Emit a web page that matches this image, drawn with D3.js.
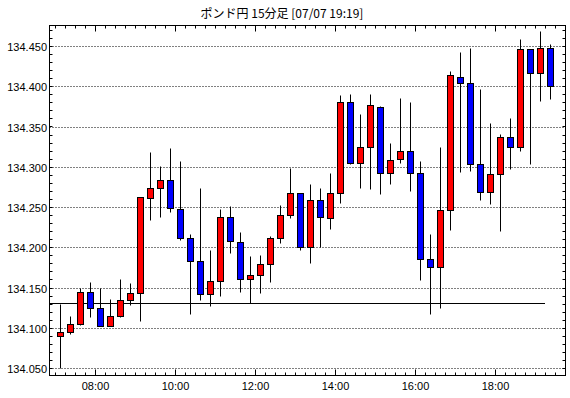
<!DOCTYPE html>
<html><head><meta charset="utf-8">
<script src="https://cdn.jsdelivr.net/npm/d3@7"></script>
<style>body{margin:0;background:#fff}svg{display:block}</style>
</head><body>
<script>
const title = "ポンド円 15分足 [07/07 19:19]";
const times = ["07:00","07:15","07:30","07:45","08:00","08:15","08:30","08:45","09:00","09:15",
"09:30","09:45","10:00","10:15","10:30","10:45","11:00","11:15","11:30","11:45",
"12:00","12:15","12:30","12:45","13:00","13:15","13:30","13:45","14:00","14:15",
"14:30","14:45","15:00","15:15","15:30","15:45","16:00","16:15","16:30","16:45",
"17:00","17:15","17:30","17:45","18:00","18:15","18:30","18:45","19:00","19:15"];
const opens = [134.090,134.095,134.105,134.145,134.125,134.102,134.115,134.135,134.143,134.261,
134.273,134.283,134.248,134.212,134.183,134.142,134.158,134.238,134.207,134.160,
134.165,134.179,134.211,134.240,134.267,134.200,134.259,134.236,134.267,134.380,
134.305,134.324,134.374,134.292,134.310,134.319,134.292,134.186,134.175,134.246,
134.412,134.404,134.303,134.269,134.291,134.337,134.324,134.446,134.417,134.447];
const highs = [134.129,134.114,134.150,134.157,134.150,134.136,134.161,134.156,134.263,134.318,
134.301,134.323,134.307,134.217,134.274,134.196,134.247,134.251,134.219,134.189,
134.190,134.214,134.253,134.298,134.267,134.278,134.273,134.292,134.389,134.390,
134.365,134.390,134.375,134.329,134.386,134.380,134.307,134.217,134.324,134.419,
134.443,134.448,134.397,134.354,134.341,134.360,134.459,134.446,134.469,134.452];
const lows = [134.050,134.092,134.103,134.113,134.102,134.102,134.113,134.128,134.108,134.234,
134.237,134.244,134.209,134.117,134.135,134.127,134.139,134.193,134.144,134.131,
134.143,134.157,134.205,134.236,134.196,134.181,134.200,134.223,134.255,134.303,
134.274,134.272,134.266,134.279,134.305,134.270,134.159,134.117,134.125,134.221,
134.294,134.295,134.259,134.254,134.220,134.297,134.320,134.304,134.382,134.384];
const closes = [134.095,134.105,134.145,134.125,134.102,134.115,134.135,134.143,134.262,134.273,
134.283,134.249,134.212,134.183,134.142,134.158,134.238,134.208,134.160,134.165,
134.179,134.211,134.240,134.267,134.200,134.259,134.237,134.267,134.380,134.305,
134.324,134.377,134.292,134.309,134.319,134.292,134.186,134.175,134.246,134.414,
134.404,134.303,134.269,134.291,134.337,134.324,134.446,134.417,134.447,134.400];
const yTicks = [134.050,134.100,134.150,134.200,134.250,134.300,134.350,134.400,134.450];
const xLabels = ["08:00","10:00","12:00","14:00","16:00","18:00"];
const refLine = 134.131;

const W = 570, H = 398;
const L = 49.5, R = 565.5, T = 25.5, B = 375.5;
const svg = d3.select("body").append("svg").attr("width", W).attr("height", H);
const toMin = s => { const [h,m] = s.split(":").map(Number); return h*60+m; };
const x = d3.scaleLinear().domain([toMin("07:00"), toMin("08:00")]).range([55.5, 95.5]);
const y = d3.scaleLinear().domain([134.05, 134.45]).range([368.5, 46.5]);
const py = v => Math.round(y(v) - 0.5) + 0.5;
const font = "'Liberation Sans', Arial, sans-serif";

// gridlines
svg.append("g").selectAll("line").data(yTicks).join("line")
  .attr("x1", L).attr("x2", R).attr("y1", d => py(d)).attr("y2", d => py(d))
  .attr("stroke", "#000").attr("stroke-dasharray", "1,2");

// y minor ticks
const yMinor = d3.range(134.05, 134.4751, 0.01);
const gy = svg.append("g");
gy.selectAll("line.l").data(yMinor).join("line").attr("class","l")
  .attr("x1", L).attr("x2", L + 3).attr("y1", d => py(d)).attr("y2", d => py(d)).attr("stroke", "#000");
gy.selectAll("line.r").data(yMinor).join("line").attr("class","r")
  .attr("x1", R - 3).attr("x2", R).attr("y1", d => py(d)).attr("y2", d => py(d)).attr("stroke", "#000");

// x ticks
const xMinor = d3.range(toMin("07:00"), toMin("19:30") + 1, 15);
const majorSet = new Set(xLabels.map(toMin));
const gx = svg.append("g");
gx.selectAll("line.b").data(xMinor).join("line").attr("class","b")
  .attr("x1", d => x(d)).attr("x2", d => x(d)).attr("y1", B).attr("y2", d => B - (majorSet.has(d) ? 6 : 3)).attr("stroke", "#000");
gx.selectAll("line.t").data(xMinor).join("line").attr("class","t")
  .attr("x1", d => x(d)).attr("x2", d => x(d)).attr("y1", T).attr("y2", d => T + (majorSet.has(d) ? 6 : 3)).attr("stroke", "#000");

// y labels
svg.append("g").selectAll("text").data(yTicks).join("text")
  .attr("x", 47).attr("y", d => py(d) + 4).attr("text-anchor", "end")
  .attr("font-family", font).attr("font-size", 11).text(d => d.toFixed(3));

// x labels
svg.append("g").selectAll("text").data(xLabels).join("text")
  .attr("x", d => x(toMin(d))).attr("y", 390).attr("text-anchor", "middle")
  .attr("font-family", font).attr("font-size", 11).text(d => d);

// title
svg.append("text").attr("x", 282).attr("y", 18).attr("text-anchor", "middle")
  .attr("font-family", "'Noto Sans CJK JP', sans-serif").attr("font-size", 12).text(title);

// reference line
svg.append("line").attr("x1", L).attr("x2", 545).attr("y1", py(refLine)).attr("y2", py(refLine)).attr("stroke", "#000");

// candles
const idx = d3.range(times.length);
const cx = i => x(toMin(times[i]) + 7.5); // center of 15-min bar
const g = svg.append("g");
g.selectAll("line").data(idx).join("line")
  .attr("x1", i => cx(i)).attr("x2", i => cx(i))
  .attr("y1", i => py(highs[i])).attr("y2", i => py(lows[i]))
  .attr("stroke", "#000");
g.selectAll("rect").data(idx).join("rect")
  .attr("x", i => cx(i) - 3).attr("width", 6)
  .attr("y", i => py(Math.max(opens[i], closes[i])))
  .attr("height", i => Math.max(1, py(Math.min(opens[i], closes[i])) - py(Math.max(opens[i], closes[i]))))
  .attr("fill", i => closes[i] >= opens[i] ? "#ff0000" : "#0000ff")
  .attr("stroke", "#000");

// frame
svg.append("rect").attr("x", L).attr("y", T).attr("width", R - L).attr("height", B - T)
  .attr("fill", "none").attr("stroke", "#000");
</script>
</body></html>
